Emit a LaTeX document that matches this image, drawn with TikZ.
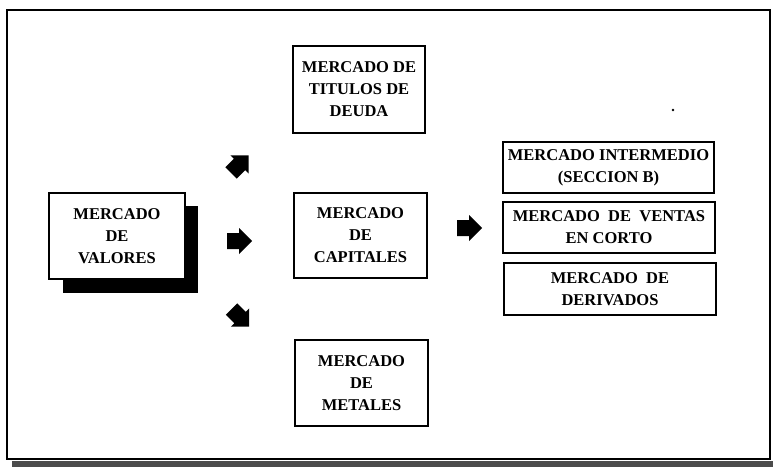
\documentclass[tikz,border=0pt]{standalone}
\usepackage{fontspec}
\setmainfont{Liberation Serif}
\begin{document}
\begin{tikzpicture}[x=1pt,y=-1pt,
  box/.style={draw, line width=1.5pt, fill=white, align=center, inner sep=0pt,
    font=\bfseries\fontsize{16.5}{22}\selectfont},
  blockarrow/.style={fill=black}]
\useasboundingbox (0,0) rectangle (773,468);
% outer frame and its shadow strip
\fill[black!70] (12,461) rectangle (773,467);
\draw[line width=1.5pt] (7,10) rectangle (770,459);
% shadow of the first box
\fill[black] (63,206) rectangle (198,293);
\node[box, minimum width=136pt, minimum height=86pt] (valores) at (117,236) {MERCADO\\DE\\VALORES};
\node[box, minimum width=132pt, minimum height=87pt] (titulos) at (359,89.5) {MERCADO DE\\TITULOS DE\\DEUDA};
\node[box, minimum width=133pt, minimum height=85pt] (capitales) at (360.5,235.5) {MERCADO\\DE\\CAPITALES};
\node[box, minimum width=133pt, minimum height=86pt] (metales) at (361.5,383) {MERCADO\\DE\\METALES};
\node[box, minimum width=211pt, minimum height=51pt] (intermedio) at (608.5,167.5) {MERCADO INTERMEDIO\\(SECCION B)};
\node[box, minimum width=212pt, minimum height=51pt] (ventas) at (609,227.5) {MERCADO~ DE~ VENTAS\\EN CORTO};
\node[box, minimum width=212pt, minimum height=52pt] (derivados) at (610,289) {MERCADO~ DE\\DERIVADOS};
% block arrows
\begin{scope}[shift={(239.5,164.5)}]
  \fill[blockarrow, rotate=45] (-12,-8)--(0,-8)--(0,-13)--(13,0)--(0,13)--(0,8)--(-12,8)--cycle;
\end{scope}
\begin{scope}[shift={(239,241)}]
  \fill[blockarrow] (-12,-8)--(0,-8)--(0,-13)--(13,0)--(0,13)--(0,8)--(-12,8)--cycle;
\end{scope}
\begin{scope}[shift={(240,317.5)}]
  \fill[blockarrow, rotate=-45] (-12,-8)--(0,-8)--(0,-13)--(13,0)--(0,13)--(0,8)--(-12,8)--cycle;
\end{scope}
\begin{scope}[shift={(469,228)}]
  \fill[blockarrow] (-12,-8)--(0,-8)--(0,-13)--(13,0)--(0,13)--(0,8)--(-12,8)--cycle;
\end{scope}
% stray dot
\fill (673,110) circle (1.3);
\end{tikzpicture}
\end{document}
